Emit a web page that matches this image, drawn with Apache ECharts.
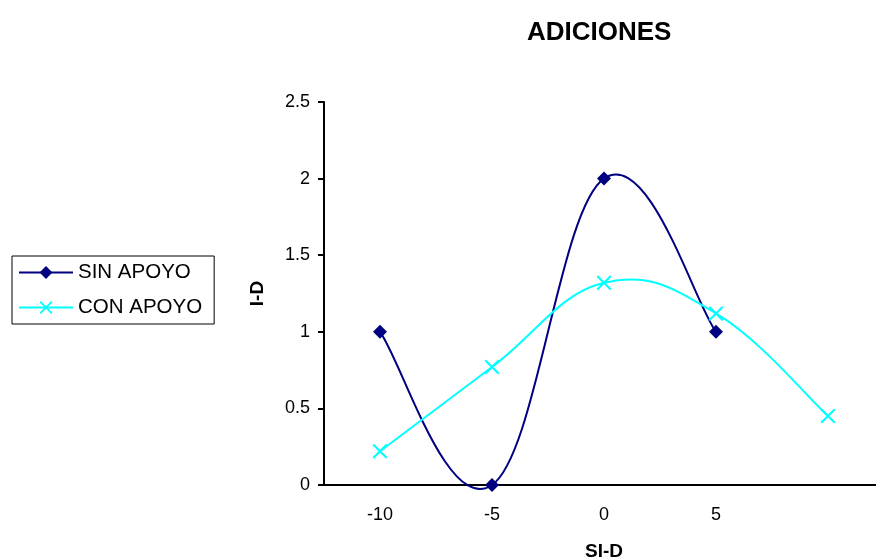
<!DOCTYPE html>
<html lang="en">
  <head>
    <meta charset="utf-8" />
    <title>ADICIONES</title>
    <script type="text/javascript" src="https://cdn.jsdelivr.net/npm/echarts@6/dist/echarts.min.js"></script>
    <style type="text/css">
      * {
        margin: 0;
        padding: 0;
      }
      html,
      body,
      #chart {
        width: 100%;
        height: 100%;
        overflow: hidden;
        background: #fff;
      }
    </style>
  </head>
  <body>
    <div id="chart"></div>
    <script type="text/javascript">
      // data
      var categories = ["-10", "-5", "0", "5", ""];
      var sinApoyo = [1, 0, 2, 1, null];
      var conApoyo = [0.22, 0.77, 1.32, 1.12, 0.45];
      var yTicks = { min: 0, max: 2.5, interval: 0.5 };

      var navy = "#000080";
      var cyan = "#00FFFF";
      // X marker as a filled polygon (echarts has no built-in cross)
      var crossSymbol =
        "path://M0,1L1,0L5,4L9,0L10,1L6,5L10,9L9,10L5,6L1,10L0,9L4,5Z";
      var font = "Arial, 'Liberation Sans', sans-serif";

      // spreadsheet-style smoothed curve: one bezier per segment,
      // tangents from the neighbouring points (through api.coord)
      function splineSeries(values, color) {
        var tension = 0.2;
        return {
          type: "custom",
          silent: true,
          z: 1,
          data: values.map(function (v, i) {
            return [i, v];
          }),
          renderItem: function (params, api) {
            var i = params.dataIndex;
            var n = values.length;
            if (values[i] == null || i + 1 >= n || values[i + 1] == null) return null;
            function pt(k) {
              k = Math.max(0, Math.min(n - 1, k));
              if (values[k] == null) k = k > i ? i + 1 : i;
              return api.coord([k, values[k]]);
            }
            var p0 = pt(i - 1), p1 = pt(i), p2 = pt(i + 1), p3 = pt(i + 2);
            return {
              type: "bezierCurve",
              shape: {
                x1: p1[0],
                y1: p1[1],
                cpx1: p1[0] + (p2[0] - p0[0]) * tension,
                cpy1: p1[1] + (p2[1] - p0[1]) * tension,
                cpx2: p2[0] - (p3[0] - p1[0]) * tension,
                cpy2: p2[1] - (p3[1] - p1[1]) * tension,
                x2: p2[0],
                y2: p2[1],
              },
              style: { stroke: color, lineWidth: 2, fill: null },
            };
          },
        };
      }

      var chart = echarts.init(document.getElementById("chart"));
      chart.setOption({
        animation: false,
        textStyle: { fontFamily: font, color: "#000" },
        title: {
          text: "ADICIONES",
          left: 522,
          top: 15,
          textStyle: { fontSize: 26, fontWeight: "bold", color: "#000", fontFamily: font },
        },
        legend: {
          orient: "vertical",
          left: 12,
          top: 256,
          borderColor: "#000",
          borderWidth: 1,
          padding: [6, 12, 6, 6],
          itemWidth: 54,
          itemHeight: 16,
          itemGap: 14,
          textStyle: { fontSize: 20.5, color: "#000", fontFamily: font },
          data: [
            { name: "SIN APOYO", lineStyle: { color: navy, width: 2, opacity: 1 } },
            { name: "CON APOYO", lineStyle: { color: cyan, width: 2, opacity: 1 } },
          ],
        },
        grid: { left: 324, top: 102, width: 560, height: 383, outerBoundsMode: "none", containLabel: false },
        xAxis: {
          type: "category",
          data: categories,
          boundaryGap: true,
          name: "SI-D",
          nameLocation: "middle",
          nameGap: 57,
          nameMoveOverlap: false,
          nameTextStyle: { fontSize: 19, fontWeight: "bold", color: "#000" },
          axisLine: { lineStyle: { color: "#000", width: 2 } },
          axisTick: { length: 6, lineStyle: { color: "#000", width: 2 } },
          axisLabel: { fontSize: 18, color: "#000", margin: 21 },
          splitLine: { show: false },
        },
        yAxis: {
          type: "value",
          min: yTicks.min,
          max: yTicks.max,
          interval: yTicks.interval,
          name: "I-D",
          nameLocation: "middle",
          nameRotate: 90,
          nameGap: 57,
          nameMoveOverlap: false,
          nameTextStyle: { fontSize: 19, fontWeight: "bold", color: "#000" },
          axisLine: { show: true, lineStyle: { color: "#000", width: 2 } },
          axisTick: { show: true, length: 6, lineStyle: { color: "#000", width: 2 } },
          axisLabel: { fontSize: 18, color: "#000", margin: 14 },
          splitLine: { show: false },
        },
        series: [
          {
            name: "SIN APOYO",
            type: "line",
            data: sinApoyo,
            symbol: "diamond",
            symbolSize: 14,
            showAllSymbol: true,
            z: 3,
            lineStyle: { color: navy, width: 0, opacity: 0 },
            itemStyle: { color: navy },
          },
          {
            name: "CON APOYO",
            type: "line",
            data: conApoyo,
            symbol: crossSymbol,
            symbolSize: 15,
            showAllSymbol: true,
            z: 3,
            lineStyle: { color: cyan, width: 0, opacity: 0 },
            itemStyle: { color: cyan },
          },
          splineSeries(sinApoyo, navy),
          splineSeries(conApoyo, cyan),
        ],
      });
    </script>
  </body>
</html>
